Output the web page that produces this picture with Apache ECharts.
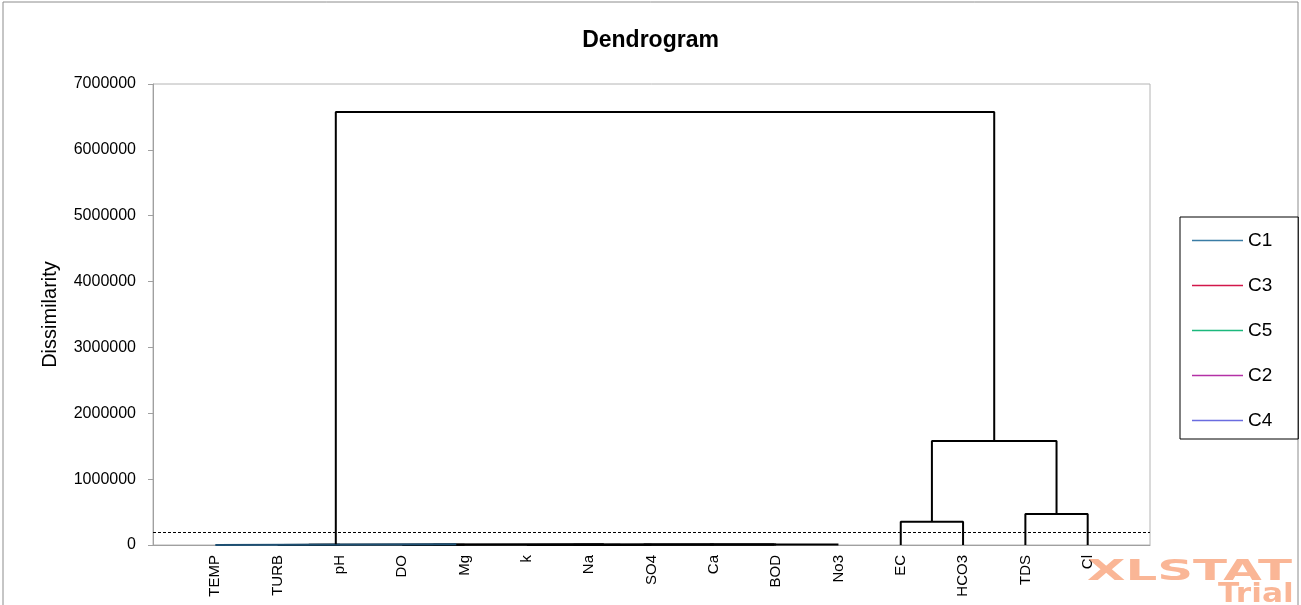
<!DOCTYPE html>
<html><head><meta charset="utf-8">
<script src="https://cdn.jsdelivr.net/npm/echarts@6/dist/echarts.min.js"></script>
<style>html,body{margin:0;padding:0;background:#fff}#c{width:1301px;height:605px}</style>
</head><body><div id="c"></div>
<script>
// ---- data ----
const leaves = ['TEMP','TURB','pH','DO','Mg','k','Na','SO4','Ca','BOD','No3','EC','HCO3','TDS','Cl'];
// agglomeration steps: node i (m0, m1, ...) joins mergeLeft[i] and mergeRight[i] at mergeHeight[i]
const mergeLeft   = ['TURB','DO','Na','k','m3','m4','m5','m1','m0','TEMP','EC','TDS','m10','m9'];
const mergeRight  = ['pH','Mg','SO4','m2','Ca','BOD','No3','m6','m7','m8','HCO3','Cl','m11','m12'];
const mergeHeight = [4000,4000,3000,5000,6000,7000,8000,9000,10000,12000,354000,470000,1579000,6575000];
const truncation = 187000;
const yTicks = [0,1000000,2000000,3000000,4000000,5000000,6000000,7000000];
const classNames = ['C1','C3','C5','C2','C4'];

// ---- styles ----
const classColors = ['#3a7ca5','#d2174a','#1bb87c','#b431a6','#6a6ce0'];
const FONT = 'Liberation Sans';

// ---- build dendrogram links from merges ----
const pos = {}, hgt = {};
leaves.forEach((n,i)=>{pos[n]=i+1; hgt[n]=0;});
const linkSeries = [];
mergeLeft.forEach((a,i)=>{
  const b = mergeRight[i], h = mergeHeight[i], id = 'm'+i;
  pos[id] = (pos[a]+pos[b])/2; hgt[id] = h;
  linkSeries.push({
    type:'line', silent:true, symbol:'none', z:3,
    data:[[pos[a],hgt[a]],[pos[a],h],[pos[b],h],[pos[b],hgt[b]]],
    lineStyle:{color: id==='m9' ? '#1d4f72' : '#000', width:2},
    animation:false
  });
});
// truncation line
linkSeries.push({
  type:'line', silent:true, symbol:'none', data:[], animation:false,
  markLine:{silent:true, symbol:'none', label:{show:false},
    lineStyle:{color:'#000', type:[3,2], width:1},
    data:[{yAxis:truncation}]}
});
const legendSeries = classNames.map((n,i)=>({
  name:n, type:'line', data:[], symbol:'none',
  lineStyle:{color:classColors[i], width:1.5}, itemStyle:{color:classColors[i]}
}));

const chart = echarts.init(document.getElementById('c'));
chart.setOption({
  animation:false,
  backgroundColor:'#fff',
  title:{text:'Dendrogram', left:'center', top:24,
    textStyle:{fontFamily:FONT, fontSize:23, fontWeight:'bold', color:'#000'}},
  grid:{left:153, right:151, top:84, bottom:60, show:true, borderColor:'#b4b4b4', borderWidth:1},
  legend:{
    data:classNames.map(n=>({name:n, icon:'rect'})), orient:'vertical', left:1180, top:217,
    padding:[14,26,9,12], itemGap:26, itemWidth:51, itemHeight:1.5,
    borderColor:'#000', borderWidth:1,
    textStyle:{fontFamily:FONT, fontSize:19, color:'#000'}
  },
  xAxis:{
    type:'value', min:0, max:leaves.length+1, interval:1,
    axisLine:{lineStyle:{color:'#a0a0a0'}}, axisTick:{show:false}, splitLine:{show:false},
    axisLabel:{rotate:90, margin:10, fontFamily:FONT, fontSize:15, color:'#000',
      formatter:v=>leaves[v-1]||''}
  },
  yAxis:{
    type:'value', min:yTicks[0], max:yTicks[yTicks.length-1], interval:yTicks[1]-yTicks[0],
    name:'Dissimilarity', nameLocation:'middle', nameGap:93,
    nameTextStyle:{fontFamily:FONT, fontSize:20, color:'#000'},
    axisLine:{show:true, lineStyle:{color:'#a0a0a0'}},
    axisTick:{show:true, length:5, lineStyle:{color:'#a0a0a0'}},
    splitLine:{show:false},
    axisLabel:{margin:17, fontFamily:FONT, fontSize:16, color:'#000', formatter:v=>String(v)}
  },
  graphic:[
    {type:'rect', shape:{x:3,y:2,width:1295,height:640}, style:{fill:'none', stroke:'#8c8c8c', lineWidth:1}, z:-10},
    {type:'text', x:1087, y:559, scaleX:1.78, style:{text:'XLSTAT', fontFamily:'DejaVu Sans', fontWeight:'bold', fontSize:28, fill:'#f9a47c', opacity:0.8}, z:10},
    {type:'text', x:1218, y:582, scaleX:1.2, style:{text:'Trial', fontFamily:'DejaVu Sans', fontWeight:'bold', fontSize:26, fill:'#f9a47c', opacity:0.8}, z:10}
  ],
  series: linkSeries.concat(legendSeries)
});
</script></body></html>
